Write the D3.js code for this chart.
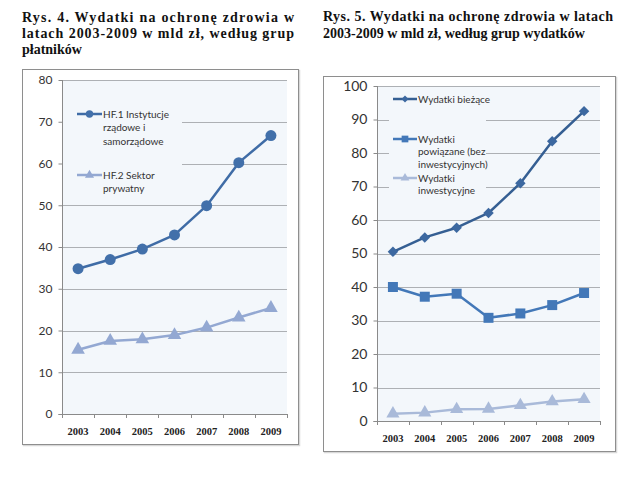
<!DOCTYPE html>
<html><head><meta charset="utf-8">
<script src="https://cdn.jsdelivr.net/npm/d3@7"></script>
<style>body{margin:0;background:#fff}svg{display:block}</style>
</head><body>
<script>
// ---- data ----
const years = ["2003","2004","2005","2006","2007","2008","2009"];
const hf1 = [34.8, 37.0, 39.5, 42.9, 49.9, 60.2, 66.7];
const hf2 = [15.4, 17.5, 17.9, 18.9, 20.7, 23.1, 25.4];
const biezace = [50.5, 54.8, 57.7, 62.1, 71.0, 83.5, 92.5];
const powiazane = [40.0, 37.1, 38.0, 30.8, 32.1, 34.6, 38.2];
const inwest = [2.2, 2.5, 3.5, 3.6, 4.7, 5.8, 6.5];
const leftTicks = [0,10,20,30,40,50,60,70,80];
const rightTicks = [0,10,20,30,40,50,60,70,80,90,100];
const leftTitle = ["Rys. 4. Wydatki na ochronę zdrowia w","latach 2003-2009 w mld zł, według grup","płatników"];
const rightTitle = ["Rys. 5. Wydatki na ochronę zdrowia w latach","2003-2009 w mld zł, według grup wydatków"];

const svg = d3.select("body").append("svg").attr("width",640).attr("height",477);

function title(lines, x, w, y0, dy, justify){
  const t = svg.append("g");
  lines.forEach((l,i)=>{
    const el = t.append("text").attr("x",x).attr("y",y0+i*dy)
      .attr("font-family","'Liberation Serif',serif").attr("font-weight","bold")
      .attr("font-size",14).attr("fill","#111").text(l);
    if(justify[i]) el.attr("textLength",w).attr("lengthAdjust","spacing");
  });
}
title(leftTitle, 22, 272, 22, 16, [true,true,false]);
title(rightTitle, 323, 290, 21, 17, [true,false]);

function chart(cfg){
  const g = svg.append("g");
  // outer box
  g.append("rect").attr("x",cfg.box[0]+1.5).attr("y",cfg.box[1]+1.5).attr("width",cfg.box[2]-cfg.box[0]).attr("height",cfg.box[3]-cfg.box[1])
    .attr("fill","none").attr("stroke","#d8d8d8").attr("stroke-width",1.5);
  g.append("rect").attr("x",cfg.box[0]+0.5).attr("y",cfg.box[1]+0.5).attr("width",cfg.box[2]-cfg.box[0]).attr("height",cfg.box[3]-cfg.box[1])
    .attr("fill","#fff").attr("stroke","#8e8e8e").attr("stroke-width",1);
  const x = d3.scaleBand().domain(years).range([cfg.pl, cfg.pr]);
  const y = d3.scaleLinear().domain([0, cfg.max]).range([cfg.pb, cfg.pt]);
  g.append("rect").attr("x",cfg.pl).attr("y",cfg.pt).attr("width",cfg.pr-cfg.pl).attr("height",cfg.pb-cfg.pt).attr("fill","#f3f7fb");
  // grid
  g.append("g").selectAll("line").data(cfg.ticks.filter(d=>d>0)).join("line")
    .attr("x1",cfg.pl).attr("x2",cfg.pr).attr("y1",d=>Math.round(y(d))+0.5).attr("y2",d=>Math.round(y(d))+0.5)
    .attr("stroke","#adb0b4").attr("stroke-width",1);
  // legend background covering grid
  g.append("rect").attr("x",cfg.leg[0]).attr("y",cfg.leg[1]).attr("width",cfg.leg[2]-cfg.leg[0]).attr("height",cfg.leg[3]-cfg.leg[1]).attr("fill","#f3f7fb");
  // y axis
  const ya = d3.axisLeft(y).tickValues(cfg.ticks).tickSize(4).tickPadding(6).tickFormat(d3.format("d"));
  const yg = g.append("g").attr("transform",`translate(${cfg.pl+0.5},0)`).call(ya);
  yg.select(".domain").attr("stroke","#8a8a8a").attr("d",`M-4,${cfg.pb+0.5}H0V${cfg.pt}`);
  yg.selectAll(".tick line").attr("stroke","#8a8a8a");
  yg.selectAll("text").attr("font-family","Lato,'Open Sans',sans-serif").attr("font-size",cfg.yfs).attr("fill","#333");
  // x axis
  const xa = d3.axisBottom(x).tickSize(0).tickPadding(cfg.xpad);
  const xg = g.append("g").attr("transform",`translate(0,${Math.round(cfg.pb)+0.5})`).call(xa);
  xg.select(".domain").attr("stroke","#8a8a8a").attr("d",`M${cfg.pl},0H${cfg.pr}`);
  xg.selectAll("text").attr("font-family","'Liberation Serif',serif").attr("font-weight","bold").attr("font-size",10.5).attr("fill","#222");
  g.append("g").selectAll("line").data(d3.range(years.length+1)).join("line")
    .attr("x1",i=>Math.round(cfg.pl+i*x.step())+0.5).attr("x2",i=>Math.round(cfg.pl+i*x.step())+0.5)
    .attr("y1",Math.round(cfg.pb)).attr("y2",Math.round(cfg.pb)+4).attr("stroke","#8a8a8a");
  // series
  const line = d3.line().x((d,i)=>x(years[i])+x.bandwidth()/2).y(d=>y(d));
  cfg.series.forEach(s=>{
    g.append("path").datum(s.values).attr("d",line).attr("fill","none").attr("stroke",s.color).attr("stroke-width",2.5).attr("stroke-linejoin","round");
    g.append("g").selectAll("path").data(s.values).join("path")
      .attr("d",d3.symbol().type(s.sym).size(s.size))
      .attr("transform",(d,i)=>`translate(${x(years[i])+x.bandwidth()/2},${y(d)})${s.rot?" rotate(45)":""}`)
      .attr("fill",s.mfill);
    // legend
    const lx = cfg.legX;
    g.append("line").attr("x1",lx).attr("x2",lx+cfg.legW).attr("y1",s.ly).attr("y2",s.ly).attr("stroke",s.color).attr("stroke-width",2.5);
    g.append("path").attr("d",d3.symbol().type(s.sym).size(s.size*0.45)).attr("transform",`translate(${lx+cfg.legW/2},${s.ly})${s.rot?" rotate(45)":""}`).attr("fill",s.mfill);
    s.label.forEach((t,i)=>{
      g.append("text").attr("x",lx+cfg.legW+1).attr("y",s.ly+3.5+i*cfg.legLH)
        .attr("font-family","Lato,'Open Sans',sans-serif").attr("font-size",cfg.lfs).attr("fill","#333").text(t);
    });
  });
}

chart({
  box:[22,69,298,444], pl:62, pr:287, pt:80, pb:414, max:80, ticks:leftTicks, yfs:12, xpad:13,
  leg:[63,100,182,197], legX:77, legW:25, legLH:13.6, lfs:10,
  series:[
    {values:hf1, color:"#3f6ca6", mfill:"#4270aa", sym:d3.symbolCircle, size:95, label:["HF.1 Instytucje","rządowe i","samorządowe"], ly:114},
    {values:hf2, color:"#93a8d2", mfill:"#93a8d2", sym:d3.symbolTriangle, size:80, label:["HF.2 Sektor","prywatny"], ly:175}
  ]
});
chart({
  box:[323,76,615,451], pl:377, pr:600, pt:86, pb:421, max:100, ticks:rightTicks, yfs:14, xpad:13,
  leg:[389,90,486,198], legX:393, legW:24, legLH:12.6, lfs:10,
  series:[
    {values:biezace, color:"#355f93", mfill:"#3c68a0", sym:d3.symbolSquare, size:55, rot:true, label:["Wydatki bieżące"], ly:99},
    {values:powiazane, color:"#4378b8", mfill:"#4378b8", sym:d3.symbolSquare, size:100, label:["Wydatki","powiązane (bez","inwestycyjnych)"], ly:139},
    {values:inwest, color:"#a9bad9", mfill:"#a9bad9", sym:d3.symbolTriangle, size:75, label:["Wydatki","inwestycyjne"], ly:178}
  ]
});
</script>
</body></html>
